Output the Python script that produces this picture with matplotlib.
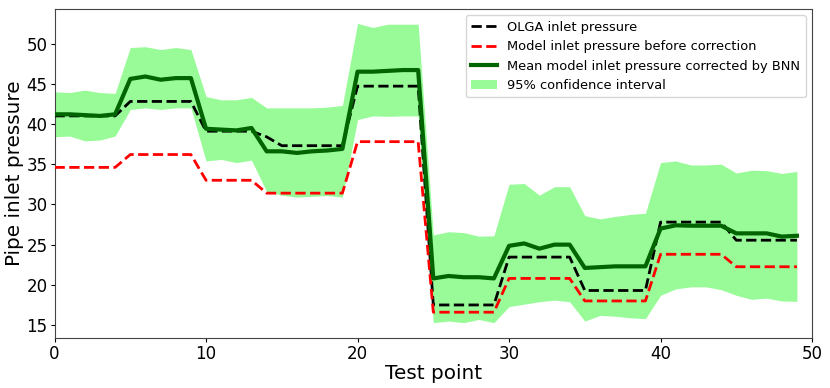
import matplotlib
matplotlib.use("Agg")
import matplotlib.pyplot as plt
import numpy as np

test_points = list(range(50))

olga = [41.0, 41.0, 41.0, 41.0, 41.0,
        42.8, 42.8, 42.8, 42.8, 42.8,
        39.1, 39.1, 39.1, 39.1,
        38.4, 37.3, 37.3, 37.3, 37.3, 37.3,
        44.7, 44.7, 44.7, 44.7, 44.7,
        17.5, 17.5, 17.5, 17.5, 17.5,
        23.45, 23.45, 23.45, 23.45, 23.45,
        19.3, 19.3, 19.3, 19.3, 19.3,
        27.8, 27.8, 27.8, 27.8, 27.8,
        25.55, 25.55, 25.55, 25.55, 25.55]

model_before = [34.6, 34.6, 34.6, 34.6, 34.6,
                36.2, 36.2, 36.2, 36.2, 36.2,
                33.0, 33.0, 33.0, 33.0,
                31.4, 31.4, 31.4, 31.4, 31.4, 31.4,
                37.8, 37.8, 37.8, 37.8, 37.8,
                16.6, 16.6, 16.6, 16.6, 16.6,
                20.8, 20.8, 20.8, 20.8, 20.8,
                18.0, 18.0, 18.0, 18.0, 18.0,
                23.8, 23.8, 23.8, 23.8, 23.8,
                22.25, 22.25, 22.25, 22.25, 22.25]

bnn_mean = [41.2, 41.2, 41.1, 41.0, 41.2,
            45.6, 45.9, 45.5, 45.7, 45.7,
            39.4, 39.3, 39.2, 39.5,
            36.6, 36.6, 36.4, 36.6, 36.7, 36.9,
            46.5, 46.5, 46.6, 46.7, 46.7,
            20.8, 21.1, 20.95, 20.95, 20.8,
            24.85, 25.15, 24.5, 25.0, 25.0,
            22.1, 22.2, 22.3, 22.3, 22.3,
            27.0, 27.4, 27.35, 27.35, 27.35,
            26.4, 26.4, 26.4, 26.0, 26.1]

ci_upper = [44.0, 43.9, 44.2, 43.9, 43.8,
            49.5, 49.6, 49.25, 49.5, 49.25,
            43.4, 43.0, 43.0, 43.3,
            42.0, 42.0, 42.0, 42.0, 42.1, 42.3,
            52.5, 52.0, 52.4, 52.4, 52.4,
            26.2, 26.6, 26.5, 26.05, 26.1,
            32.5, 32.6, 31.15, 32.2, 32.2,
            28.6, 28.2, 28.5, 28.75, 28.9,
            35.2, 35.4, 34.9, 34.9, 35.0,
            33.9, 34.25, 34.2, 33.85, 34.1]

ci_lower = [38.4, 38.5, 37.9, 38.0, 38.5,
            41.8, 42.0, 41.8, 42.0, 42.0,
            35.4, 35.6, 35.2, 35.5,
            31.6, 31.15, 30.9, 31.0, 31.1, 30.9,
            40.55, 41.0, 40.95, 41.0, 41.0,
            15.3, 15.5, 15.3, 15.7, 15.3,
            17.3, 17.6, 17.9, 18.1, 17.9,
            15.5, 16.2, 16.1, 15.9, 15.8,
            18.7, 19.5, 19.75, 19.75, 19.4,
            18.7, 18.2, 18.35, 18.0, 17.95]

fig = plt.figure(figsize=(8.3, 3.88), dpi=100)
ax = fig.add_axes([0.0657, 0.129, 0.9127, 0.848])

fill = ax.fill_between(test_points, ci_lower, ci_upper, color='palegreen',
                       linewidth=0, zorder=1, label='95% confidence interval')
l1, = ax.plot(test_points, olga, '--', color='black', lw=2, zorder=3,
              label='OLGA inlet pressure')
l2, = ax.plot(test_points, model_before, '--', color='red', lw=2, zorder=3,
              label='Model inlet pressure before correction')
l3, = ax.plot(test_points, bnn_mean, '-', color='darkgreen', lw=3, zorder=4,
              label='Mean model inlet pressure corrected by BNN')

ax.set_xlim(0, 50)
ax.set_ylim(13.4, 54.3)
ax.set_xticks([0, 10, 20, 30, 40, 50])
ax.set_yticks([15, 20, 25, 30, 35, 40, 45, 50])
ax.tick_params(labelsize=12, length=3, pad=2)
for s in ax.spines.values():
    s.set_color('#444444')
ax.set_xlabel('Test point', fontsize=14.4, labelpad=1)
ax.set_ylabel('Pipe inlet pressure', fontsize=14.4, labelpad=2)
ax.legend(handles=[l1, l2, l3, fill], loc='upper right', fontsize=9.4)

fig.savefig('out.png', dpi=100)
